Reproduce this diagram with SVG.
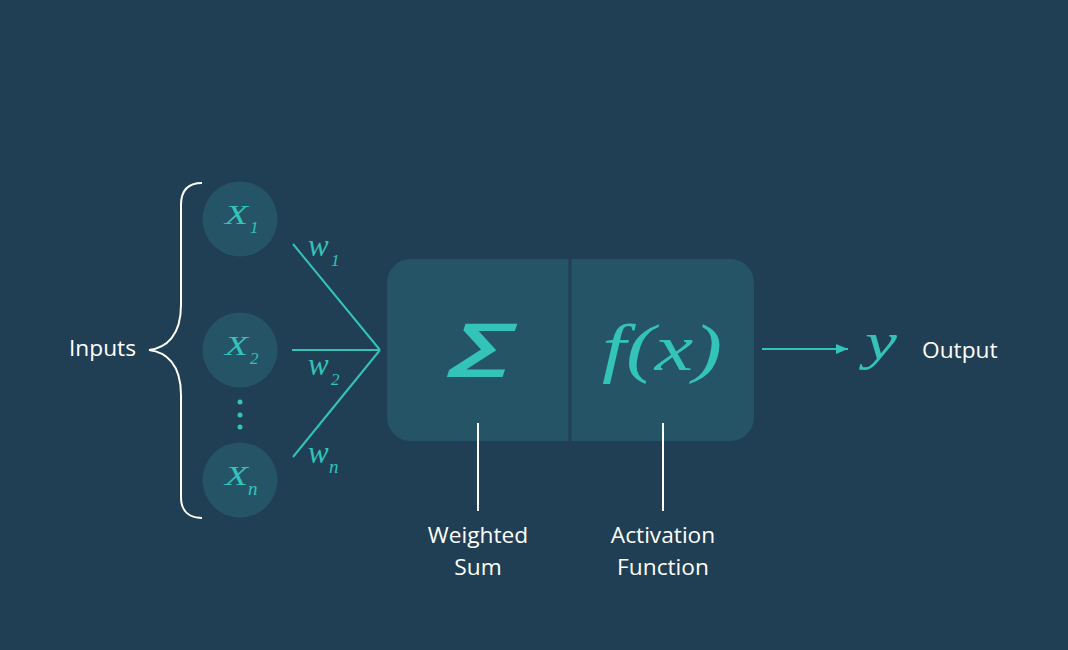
<svg xmlns="http://www.w3.org/2000/svg" width="1068" height="650" viewBox="0 0 1068 650">
<defs>
<style>
.bg{fill:#213f54}
.node{fill:#265467}
.teal{fill:#33c3b8}
.edge{stroke:#33c3b8;stroke-width:2;fill:none}
.wline{stroke:#ffffff;stroke-width:2;fill:none}
.lbl{font-family:"Open Sans","Noto Sans",sans-serif;font-size:22.7px;fill:#ffffff}
.math{font-family:"Liberation Serif","DejaVu Serif",serif;font-style:italic;fill:#33c3b8}
</style>
<marker id="arr" viewBox="0 0 12 10" refX="12" refY="5" markerWidth="12" markerHeight="10" markerUnits="userSpaceOnUse" orient="auto">
<path d="M0,0 L12,5 L0,10 Z" fill="#33c3b8"/>
</marker>
</defs>
<rect class="bg" x="0" y="0" width="1068" height="650"/>

<g id="inputs-label">
<text class="lbl" x="69" y="356">Inputs</text>
<path class="wline" d="M202,183 C190,183 181,188 181,205 L181,305 C181,336 166,348 149,350 C166,352 181,364 181,395 L181,497 C181,512 190,518 202,518"/>
</g>

<g id="x1">
<circle class="node" cx="240" cy="219" r="37.5"/>
<text class="math" x="225" y="224" font-size="28" textLength="23" lengthAdjust="spacingAndGlyphs">X</text>
<text class="math" x="250" y="233" font-size="17">1</text>
</g>
<g id="x2">
<circle class="node" cx="240" cy="350" r="37.5"/>
<text class="math" x="225" y="355" font-size="28" textLength="23" lengthAdjust="spacingAndGlyphs">X</text>
<text class="math" x="250" y="364" font-size="17">2</text>
</g>
<g id="dots">
<circle class="teal" cx="240" cy="402" r="2.5"/>
<circle class="teal" cx="240" cy="415" r="2.5"/>
<circle class="teal" cx="240" cy="427" r="2.5"/>
</g>
<g id="xn">
<circle class="node" cx="240" cy="480" r="37.5"/>
<text class="math" x="225" y="485" font-size="28" textLength="23" lengthAdjust="spacingAndGlyphs">X</text>
<text class="math" x="248" y="495" font-size="19">n</text>
</g>

<g id="weights">
<text class="math" x="308" y="256" font-size="31">w</text>
<text class="math" x="331" y="266" font-size="17">1</text>
<text class="math" x="308" y="375" font-size="31">w</text>
<text class="math" x="331" y="385" font-size="17">2</text>
<text class="math" x="308" y="463" font-size="31">w</text>
<text class="math" x="329" y="473" font-size="19">n</text>
</g>

<g id="neuron">
<rect class="node" x="387" y="259" width="367" height="182" rx="24"/>
<line x1="570" y1="259" x2="570" y2="441" stroke="#213f54" stroke-width="3"/>
<text x="449" y="377" font-family="'Open Sans','Noto Sans',sans-serif" font-style="italic" font-weight="600" font-size="74" textLength="64" lengthAdjust="spacingAndGlyphs" class="teal">Σ</text>
<text class="math" x="602" y="370" font-size="66" textLength="120" lengthAdjust="spacingAndGlyphs">f(x)</text>
</g>

<g id="connectors">
<line class="edge" x1="293" y1="244" x2="380" y2="350"/>
<line class="edge" x1="292" y1="350" x2="380" y2="350"/>
<line class="edge" x1="293" y1="457" x2="380" y2="350"/>
<line class="edge" x1="762" y1="349" x2="848" y2="349" marker-end="url(#arr)"/>
<line class="wline" x1="478" y1="423" x2="478" y2="511"/>
<line class="wline" x1="663" y1="423" x2="663" y2="511"/>
</g>

<g id="weighted-sum-label">
<text class="lbl" x="478" y="543" text-anchor="middle">Weighted</text>
<text class="lbl" x="478" y="575" text-anchor="middle">Sum</text>
</g>
<g id="activation-label">
<text class="lbl" x="663" y="543" text-anchor="middle">Activation</text>
<text class="lbl" x="663" y="575" text-anchor="middle">Function</text>
</g>

<g id="output">
<text class="math" x="865" y="359" font-size="52" textLength="32" lengthAdjust="spacingAndGlyphs">y</text>
<text class="lbl" x="922" y="358">Output</text>
</g>
</svg>
